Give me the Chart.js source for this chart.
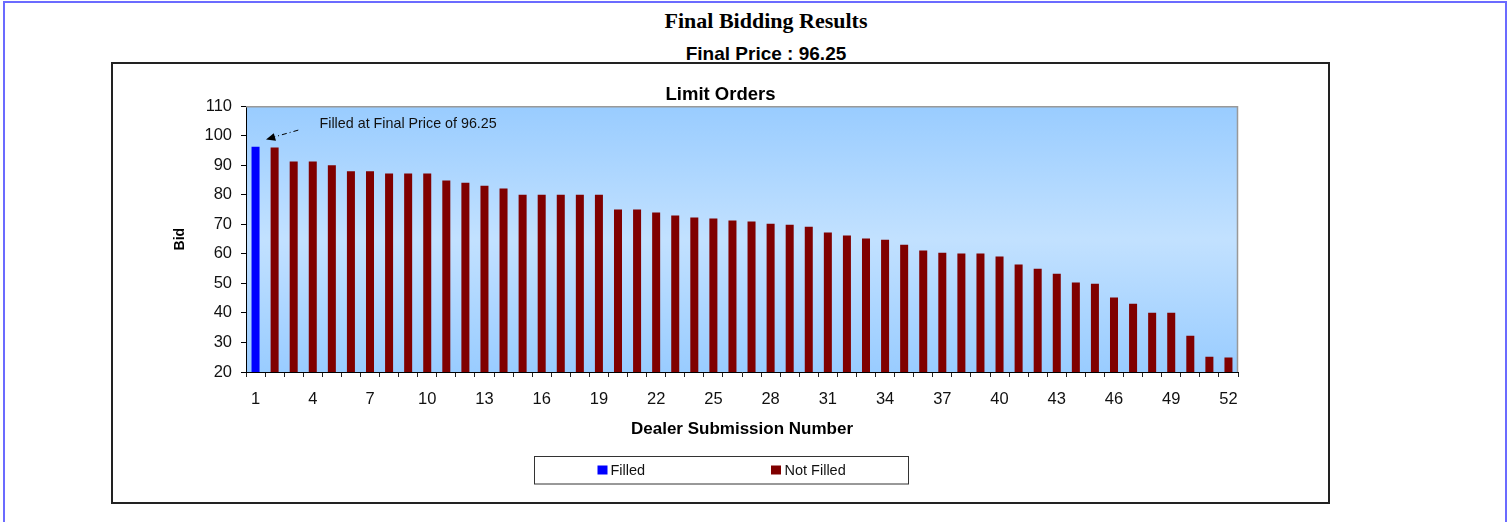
<!DOCTYPE html>
<html lang="en">
<head>
    <meta charset="UTF-8">
    <title>Final Bidding Results</title>
    <style>
        body { margin: 0; background: #fff; overflow: hidden; }
        .page { position: absolute; left: 3px; top: 1px; width: 1504px; height: 600px; border: 2px solid #6b6bff; box-sizing: border-box; }
        .title1 { position: absolute; left: 23px; width: 1486px; top: 10px; text-align: center; font: bold 22px "Liberation Serif", "Times New Roman", serif; line-height: 22px; color: #000; }
        .title2 { position: absolute; left: 23px; width: 1486px; top: 44px; text-align: center; font: bold 19px "Liberation Sans", Arial, sans-serif; line-height: 19px; color: #000; }
        .box { position: absolute; left: 111px; top: 62px; width: 1219px; height: 442px; border: 2px solid #222; box-sizing: border-box; background: #fff; }
        .box canvas { display: block; }
    </style>
</head>
<body>
    <div class="page"></div>
    <div class="title1">Final Bidding Results</div>
    <div class="title2">Final Price : 96.25</div>
    <div class="box">
        <canvas id="bidChart" width="1215" height="438"></canvas>
    </div>

    <script src="https://cdn.jsdelivr.net/npm/chart.js"></script>
    <script>
    // data
    const dealers = ['1','2','3','4','5','6','7','8','9','10','11','12','13','14','15','16','17','18','19','20',
        '21','22','23','24','25','26','27','28','29','30','31','32','33','34','35','36','37','38','39','40',
        '41','42','43','44','45','46','47','48','49','50','51','52'];
    const bids = [96.25, 96, 91.25, 91.25, 90, 88, 88, 87.2, 87.2, 87.2, 84.8, 84.1, 83.1, 82.1, 80, 80, 80, 80, 80, 75,
        75, 74, 73, 72.3, 72, 71.3, 71, 70.2, 69.9, 69.2, 67.2, 66.2, 65.2, 64.8, 63.1, 61.1, 60.4, 60.1, 60.1, 59.1,
        56.4, 55, 53.3, 50.3, 49.9, 45.2, 43.1, 40.1, 40.1, 32.3, 25.2, 24.9];
    const filledCount = 1;
    const finalPrice = 96.25;
    const yTicks = [20, 30, 40, 50, 60, 70, 80, 90, 100, 110];

    const filled = bids.map((v, i) => i < filledCount ? v : null);
    const notFilled = bids.map((v, i) => i < filledCount ? null : v);

    const FONT = '"Liberation Sans", Arial, sans-serif';

    // plot background + grey frame
    const plotArea = {
        id: 'plotArea',
        beforeDraw(chart) {
            const a = chart.chartArea, ctx = chart.ctx;
            const g = ctx.createLinearGradient(0, a.top, 0, a.bottom);
            g.addColorStop(0, '#99ccff');
            g.addColorStop(0.5, '#c2e1ff');
            g.addColorStop(1, '#99ccff');
            ctx.save();
            ctx.fillStyle = g;
            ctx.fillRect(a.left, a.top, a.right - a.left, a.bottom - a.top);
            ctx.restore();
        },
        afterDatasetsDraw(chart) {
            const a = chart.chartArea, ctx = chart.ctx;
            ctx.save();
            ctx.strokeStyle = '#999';
            ctx.lineWidth = 1.5;
            ctx.beginPath();
            ctx.moveTo(a.left, a.top + 0.5);
            ctx.lineTo(a.right - 0.5, a.top + 0.5);
            ctx.lineTo(a.right - 0.5, a.bottom);
            ctx.stroke();
            ctx.restore();
        }
    };

    // "Filled at Final Price" note with dashed arrow
    const note = {
        id: 'note',
        afterDatasetsDraw(chart) {
            const x = chart.scales.x, y = chart.scales.y, ctx = chart.ctx;
            const x0 = x.getPixelForValue(2.24), y0 = y.getPixelForValue(101.9);
            const x1 = x.getPixelForValue(0.55), y1 = y.getPixelForValue(98.7);
            ctx.save();
            ctx.strokeStyle = '#000';
            ctx.fillStyle = '#000';
            ctx.lineWidth = 1;
            ctx.setLineDash([5, 3, 1, 3]);
            ctx.beginPath();
            ctx.moveTo(x0, y0);
            ctx.lineTo(x1 + 6, y1 - 2);
            ctx.stroke();
            ctx.setLineDash([]);
            const ang = Math.atan2(y1 - y0, x1 - x0);
            ctx.beginPath();
            ctx.moveTo(x1, y1);
            ctx.lineTo(x1 - 10 * Math.cos(ang - 0.4), y1 - 10 * Math.sin(ang - 0.4));
            ctx.lineTo(x1 - 10 * Math.cos(ang + 0.4), y1 - 10 * Math.sin(ang + 0.4));
            ctx.closePath();
            ctx.fill();
            ctx.font = '14.3px ' + FONT;
            ctx.textBaseline = 'middle';
            ctx.fillStyle = '#111';
            ctx.fillText('Filled at Final Price of ' + finalPrice, x.getPixelForValue(0) + 64, y.getPixelForValue(103.9));
            ctx.restore();
        }
    };

    // boxed legend below the axis title
    const boxLegend = {
        id: 'boxLegend',
        afterDraw(chart) {
            const ctx = chart.ctx;
            const w = 374, h = 27.5;
            const left = Math.round(chart.width / 2 - w / 2) + 0.5, top = 392.5;
            ctx.save();
            ctx.strokeStyle = '#333';
            ctx.lineWidth = 1;
            ctx.strokeRect(left, top, w, h);
            const offs = [[63, 76], [236.5, 250]];
            ctx.font = '14.5px ' + FONT;
            ctx.textBaseline = 'middle';
            chart.data.datasets.forEach((ds, i) => {
                ctx.fillStyle = ds.backgroundColor;
                ctx.fillRect(left + offs[i][0], top + 9, 10, 9);
                ctx.fillStyle = '#111';
                ctx.fillText(ds.label, left + offs[i][1], top + 14);
            });
            ctx.restore();
        }
    };

    new Chart(document.getElementById('bidChart'), {
        type: 'bar',
        data: {
            labels: dealers,
            datasets: [{
                label: 'Filled',
                data: filled,
                backgroundColor: '#0000ff',
                grouped: false,
                barPercentage: 0.42,
                categoryPercentage: 1
            }, {
                label: 'Not Filled',
                data: notFilled,
                backgroundColor: '#800000',
                grouped: false,
                barPercentage: 0.42,
                categoryPercentage: 1
            }]
        },
        options: {
            responsive: false,
            animation: false,
            devicePixelRatio: 1,
            layout: { padding: { left: 0, right: 0, top: 0, bottom: 62 } },
            plugins: {
                legend: { display: false },
                tooltip: { enabled: false },
                title: {
                    display: true,
                    text: 'Limit Orders',
                    color: '#000',
                    font: { family: FONT, size: 18.5, weight: 'bold' },
                    padding: { top: 20, bottom: 0 }
                }
            },
            scales: {
                x: {
                    grid: { drawOnChartArea: false, tickLength: 5, color: '#222' },
                    border: { color: '#000', width: 1 },
                    ticks: {
                        autoSkip: false,
                        maxRotation: 0,
                        padding: 13,
                        color: '#111',
                        font: { family: FONT, size: 16.5 },
                        callback: (v, i) => i % 3 === 0 ? dealers[i] : ''
                    },
                    title: {
                        display: true,
                        text: 'Dealer Submission Number',
                        color: '#000',
                        font: { family: FONT, size: 17, weight: 'bold' },
                        padding: { top: 4, bottom: 0 }
                    },
                    afterFit: (s) => { s.height = 68; }
                },
                y: {
                    min: yTicks[0],
                    max: yTicks[yTicks.length - 1],
                    afterBuildTicks: (s) => { s.ticks = yTicks.map(v => ({ value: v })); },
                    grid: { drawOnChartArea: false, tickLength: 5, color: '#000' },
                    border: { color: '#000', width: 1 },
                    ticks: {
                        padding: 9,
                        color: '#111',
                        font: { family: FONT, size: 16.5 }
                    },
                    title: {
                        display: true,
                        text: 'Bid',
                        color: '#000',
                        font: { family: FONT, size: 14, weight: 'bold' },
                        padding: { top: 58.6, bottom: 4 }
                    },
                    afterFit: (s) => { s.width = 133; }
                },
                // empty right-hand margin so the plot ends where the reference's does
                yRight: {
                    position: 'right',
                    display: true,
                    grid: { display: false },
                    border: { display: false },
                    ticks: { display: false },
                    afterFit: (s) => { s.width = 90; }
                }
            }
        },
        plugins: [plotArea, note, boxLegend]
    });
    </script>
</body>
</html>
